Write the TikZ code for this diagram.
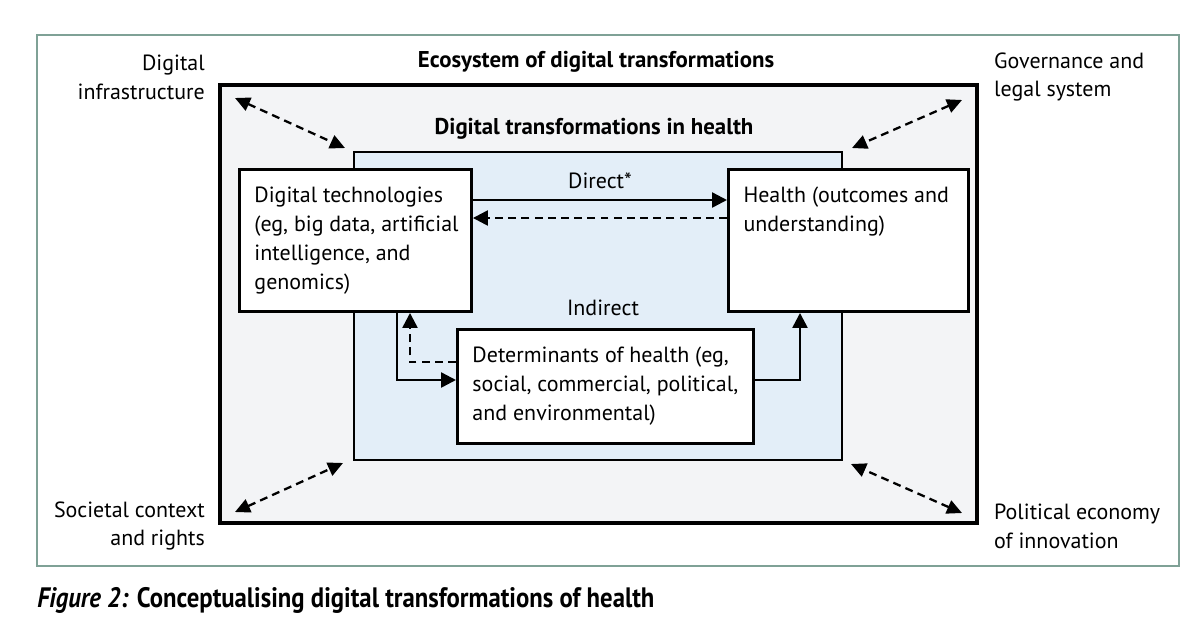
\documentclass[tikz,border=0pt]{standalone}
\usepackage{fontspec}
\setmainfont{PT Sans}
\usetikzlibrary{arrows.meta,calc,positioning}
\definecolor{framegreen}{HTML}{7FA196}
\definecolor{ecofill}{HTML}{F3F4F6}
\definecolor{healthfill}{HTML}{E3EEF8}
\newcommand{\boxtext}[3]{\parbox[c][#2][t]{#1}{\begin{tabular}[t]{@{}l@{}}#3\end{tabular}}}

\begin{document}
\begin{tikzpicture}[x=0.02cm, y=-0.02cm,
		every node/.style={font=\fontsize{12.5}{16.5}\selectfont},
		frame/.style={draw=framegreen, line width=0.8pt},
		eco/.style={draw, fill=ecofill, line width=2pt},
		area/.style={draw, fill=healthfill, line width=1.2pt},
		box/.style={draw, fill=white, line width=1.7pt, inner xsep=0.3cm, inner ysep=0.26cm, anchor=north west},
		heading/.style={font=\fontsize{13}{16.5}\selectfont\bfseries},
		flow/.style={line width=1.4pt, -{Triangle[length=0.3cm, width=0.3cm]}},
		back/.style={flow, dash pattern=on 4.5pt off 3pt},
		link/.style={line width=1.3pt, dash pattern=on 4.5pt off 3pt,
			{Triangle[length=0.3cm, width=0.28cm]}-{Triangle[length=0.3cm, width=0.28cm]}},
	]
	\useasboundingbox (0,0) rectangle (1200,623);
	\draw[frame] (37,35) rectangle (1179,566);
	\draw[eco] (220,85) rectangle (977,523);
	\draw[area] (354,152) rectangle (842,460);

	\node[heading] (ecotitle) at (596,62) {Ecosystem of digital transformations};
	\node[heading] (areatitle) at (594,129) {Digital transformations in health};

	\node[box] (tech) at (238,168) {\boxtext{4.04cm}{2.32cm}{Digital technologies\\(eg, big data, artificial\\intelligence, and\\genomics)}};
	\node[box] (health) at (727,168) {\boxtext{4.2cm}{2.32cm}{Health (outcomes and\\understanding)}};
	\node[box] (det) at (456,328) {\boxtext{5.32cm}{1.76cm}{Determinants of health (eg,\\social, commercial, political,\\and environmental)}};

	\node (direct) at (600,181) {Direct*};
	\node (indirect) at (603,308) {Indirect};

	\draw[flow] ($(tech.north east)+(0,32)$) -- ($(health.north west)+(0,32)$);
	\draw[back] ($(health.north west)+(0,50)$) -- ($(tech.north east)+(0,50)$);
	\draw[flow] ($(tech.south west)+(159,0)$) |- ($(det.north west)+(0,52)$);
	\draw[back] ($(det.north west)+(0,34)$) -| ($(tech.south west)+(172,0)$);
	\draw[flow] ($(det.north east)+(0,52)$) -| ($(health.south west)+(73,0)$);

	\node[align=right, anchor=east] (infra) at (211,77) {Digital\\infrastructure};
	\node[align=left, anchor=west] (gov) at (988,77) {Governance and\\legal system};
	\node[align=right, anchor=east] (society) at (211,526) {Societal context\\and rights};
	\node[align=left, anchor=west] (economy) at (988,526) {Political economy\\of innovation};

	\coordinate (tlA) at (235,98);
	\coordinate (tlB) at (345,148);
	\coordinate (trA) at (962,100);
	\coordinate (trB) at (852,148);
	\coordinate (blA) at (235,512);
	\coordinate (blB) at (343,463);
	\coordinate (brA) at (962,513);
	\coordinate (brB) at (851,464);
	\foreach \c in {tl,tr,bl,br}
		\draw[link] (\c A) -- (\c B);

	\node[anchor=west, inner sep=0pt] (caption) at (37,600)
		{\scalebox{0.88}[1]{\fontsize{16}{18}\selectfont\bfseries\itshape Figure 2: \upshape Conceptualising digital transformations of health}};
\end{tikzpicture}
\end{document}
